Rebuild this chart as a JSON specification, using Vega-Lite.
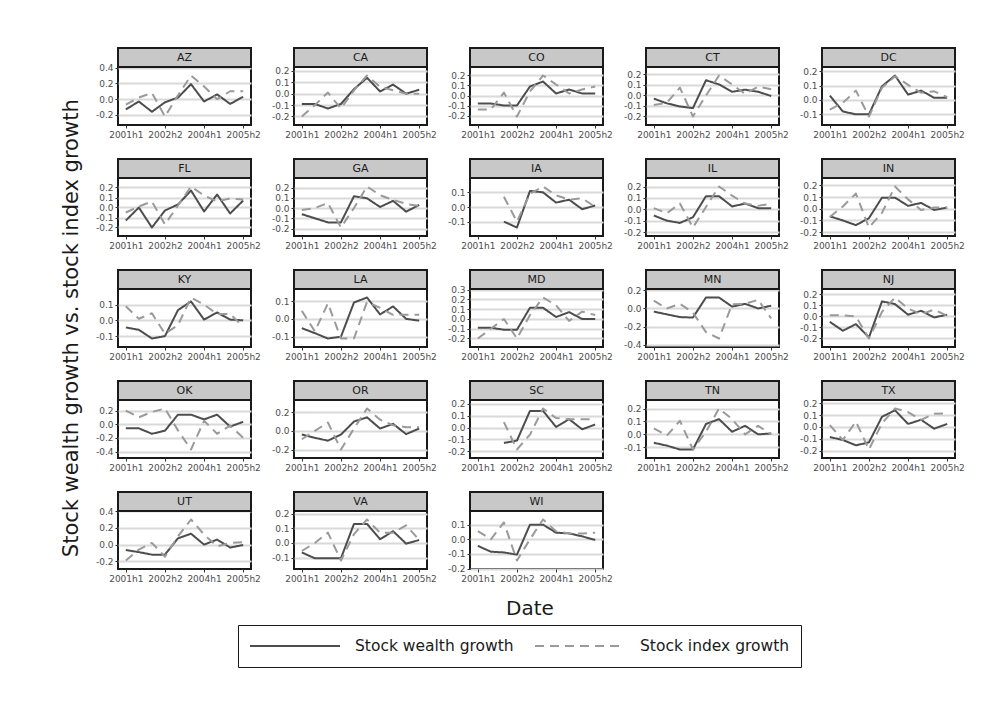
{
"$schema": "https://vega.github.io/schema/vega-lite/v6.json",
"background": "white",
"padding": {"left": 61, "top": 45, "right": 10, "bottom": 10},
"title": {"text": "Stock wealth growth vs. stock index growth", "orient": "left", "anchor": "middle", "frame": "bounds", "dx": 28, "fontSize": 21, "fontWeight": "normal", "font": "DejaVu Sans", "color": "#1a1a1a", "offset": 12},
"data": {"values": [
{"s":"AZ","t":"2001h1","k":"w","v":-0.13},{"s":"AZ","t":"2001h2","k":"w","v":-0.03},{"s":"AZ","t":"2002h1","k":"w","v":-0.16},{"s":"AZ","t":"2002h2","k":"w","v":-0.04},{"s":"AZ","t":"2003h1","k":"w","v":0.02},{"s":"AZ","t":"2003h2","k":"w","v":0.19},{"s":"AZ","t":"2004h1","k":"w","v":-0.03},{"s":"AZ","t":"2004h2","k":"w","v":0.06},{"s":"AZ","t":"2005h1","k":"w","v":-0.06},{"s":"AZ","t":"2005h2","k":"w","v":0.03},
{"s":"AZ","t":"2001h1","k":"i","v":-0.07},{"s":"AZ","t":"2001h2","k":"i","v":0.02},{"s":"AZ","t":"2002h1","k":"i","v":0.08},{"s":"AZ","t":"2002h2","k":"i","v":-0.22},{"s":"AZ","t":"2003h1","k":"i","v":0.05},{"s":"AZ","t":"2003h2","k":"i","v":0.30},{"s":"AZ","t":"2004h1","k":"i","v":0.16},{"s":"AZ","t":"2004h2","k":"i","v":0.00},{"s":"AZ","t":"2005h1","k":"i","v":0.10},{"s":"AZ","t":"2005h2","k":"i","v":0.10},
{"s":"CA","t":"2001h1","k":"w","v":-0.09},{"s":"CA","t":"2001h2","k":"w","v":-0.09},{"s":"CA","t":"2002h1","k":"w","v":-0.13},{"s":"CA","t":"2002h2","k":"w","v":-0.09},{"s":"CA","t":"2003h1","k":"w","v":0.04},{"s":"CA","t":"2003h2","k":"w","v":0.14},{"s":"CA","t":"2004h1","k":"w","v":0.02},{"s":"CA","t":"2004h2","k":"w","v":0.08},{"s":"CA","t":"2005h1","k":"w","v":0.00},{"s":"CA","t":"2005h2","k":"w","v":0.035},
{"s":"CA","t":"2001h1","k":"i","v":-0.20},{"s":"CA","t":"2001h2","k":"i","v":-0.10},{"s":"CA","t":"2002h1","k":"i","v":0.01},{"s":"CA","t":"2002h2","k":"i","v":-0.13},{"s":"CA","t":"2003h1","k":"i","v":0.03},{"s":"CA","t":"2003h2","k":"i","v":0.16},{"s":"CA","t":"2004h1","k":"i","v":0.06},{"s":"CA","t":"2004h2","k":"i","v":0.03},{"s":"CA","t":"2005h1","k":"i","v":0.00},{"s":"CA","t":"2005h2","k":"i","v":0.00},
{"s":"CO","t":"2001h1","k":"w","v":-0.08},{"s":"CO","t":"2001h2","k":"w","v":-0.08},{"s":"CO","t":"2002h1","k":"w","v":-0.10},{"s":"CO","t":"2002h2","k":"w","v":-0.10},{"s":"CO","t":"2003h1","k":"w","v":0.09},{"s":"CO","t":"2003h2","k":"w","v":0.14},{"s":"CO","t":"2004h1","k":"w","v":0.02},{"s":"CO","t":"2004h2","k":"w","v":0.06},{"s":"CO","t":"2005h1","k":"w","v":0.02},{"s":"CO","t":"2005h2","k":"w","v":0.02},
{"s":"CO","t":"2001h1","k":"i","v":-0.14},{"s":"CO","t":"2001h2","k":"i","v":-0.14},{"s":"CO","t":"2002h1","k":"i","v":0.03},{"s":"CO","t":"2002h2","k":"i","v":-0.21},{"s":"CO","t":"2003h1","k":"i","v":0.04},{"s":"CO","t":"2003h2","k":"i","v":0.20},{"s":"CO","t":"2004h1","k":"i","v":0.11},{"s":"CO","t":"2004h2","k":"i","v":0.02},{"s":"CO","t":"2005h1","k":"i","v":0.06},{"s":"CO","t":"2005h2","k":"i","v":0.09},
{"s":"CT","t":"2001h1","k":"w","v":-0.03},{"s":"CT","t":"2001h2","k":"w","v":-0.075},{"s":"CT","t":"2002h1","k":"w","v":-0.105},{"s":"CT","t":"2002h2","k":"w","v":-0.12},{"s":"CT","t":"2003h1","k":"w","v":0.145},{"s":"CT","t":"2003h2","k":"w","v":0.105},{"s":"CT","t":"2004h1","k":"w","v":0.035},{"s":"CT","t":"2004h2","k":"w","v":0.055},{"s":"CT","t":"2005h1","k":"w","v":0.035},{"s":"CT","t":"2005h2","k":"w","v":-0.005},
{"s":"CT","t":"2001h1","k":"i","v":-0.09},{"s":"CT","t":"2001h2","k":"i","v":-0.07},{"s":"CT","t":"2002h1","k":"i","v":0.075},{"s":"CT","t":"2002h2","k":"i","v":-0.20},{"s":"CT","t":"2003h1","k":"i","v":0.00},{"s":"CT","t":"2003h2","k":"i","v":0.19},{"s":"CT","t":"2004h1","k":"i","v":0.105},{"s":"CT","t":"2004h2","k":"i","v":0.015},{"s":"CT","t":"2005h1","k":"i","v":0.085},{"s":"CT","t":"2005h2","k":"i","v":0.06},
{"s":"DC","t":"2001h1","k":"w","v":0.03},{"s":"DC","t":"2001h2","k":"w","v":-0.08},{"s":"DC","t":"2002h1","k":"w","v":-0.10},{"s":"DC","t":"2002h2","k":"w","v":-0.10},{"s":"DC","t":"2003h1","k":"w","v":0.095},{"s":"DC","t":"2003h2","k":"w","v":0.17},{"s":"DC","t":"2004h1","k":"w","v":0.037},{"s":"DC","t":"2004h2","k":"w","v":0.065},{"s":"DC","t":"2005h1","k":"w","v":0.015},{"s":"DC","t":"2005h2","k":"w","v":0.015},
{"s":"DC","t":"2001h1","k":"i","v":-0.067},{"s":"DC","t":"2001h2","k":"i","v":-0.02},{"s":"DC","t":"2002h1","k":"i","v":0.065},{"s":"DC","t":"2002h2","k":"i","v":-0.115},{"s":"DC","t":"2003h1","k":"i","v":0.085},{"s":"DC","t":"2003h2","k":"i","v":0.165},{"s":"DC","t":"2004h1","k":"i","v":0.105},{"s":"DC","t":"2004h2","k":"i","v":0.05},{"s":"DC","t":"2005h1","k":"i","v":0.06},{"s":"DC","t":"2005h2","k":"i","v":0.02},
{"s":"FL","t":"2001h1","k":"w","v":-0.13},{"s":"FL","t":"2001h2","k":"w","v":0.00},{"s":"FL","t":"2002h1","k":"w","v":-0.20},{"s":"FL","t":"2002h2","k":"w","v":-0.03},{"s":"FL","t":"2003h1","k":"w","v":0.03},{"s":"FL","t":"2003h2","k":"w","v":0.17},{"s":"FL","t":"2004h1","k":"w","v":-0.04},{"s":"FL","t":"2004h2","k":"w","v":0.13},{"s":"FL","t":"2005h1","k":"w","v":-0.06},{"s":"FL","t":"2005h2","k":"w","v":0.07},
{"s":"FL","t":"2001h1","k":"i","v":-0.05},{"s":"FL","t":"2001h2","k":"i","v":0.01},{"s":"FL","t":"2002h1","k":"i","v":0.06},{"s":"FL","t":"2002h2","k":"i","v":-0.17},{"s":"FL","t":"2003h1","k":"i","v":0.02},{"s":"FL","t":"2003h2","k":"i","v":0.21},{"s":"FL","t":"2004h1","k":"i","v":0.12},{"s":"FL","t":"2004h2","k":"i","v":0.06},{"s":"FL","t":"2005h1","k":"i","v":0.09},{"s":"FL","t":"2005h2","k":"i","v":0.08},
{"s":"GA","t":"2001h1","k":"w","v":-0.06},{"s":"GA","t":"2001h2","k":"w","v":-0.10},{"s":"GA","t":"2002h1","k":"w","v":-0.14},{"s":"GA","t":"2002h2","k":"w","v":-0.14},{"s":"GA","t":"2003h1","k":"w","v":0.115},{"s":"GA","t":"2003h2","k":"w","v":0.095},{"s":"GA","t":"2004h1","k":"w","v":0.01},{"s":"GA","t":"2004h2","k":"w","v":0.07},{"s":"GA","t":"2005h1","k":"w","v":-0.035},{"s":"GA","t":"2005h2","k":"w","v":0.03},
{"s":"GA","t":"2001h1","k":"i","v":-0.02},{"s":"GA","t":"2001h2","k":"i","v":0.00},{"s":"GA","t":"2002h1","k":"i","v":0.05},{"s":"GA","t":"2002h2","k":"i","v":-0.19},{"s":"GA","t":"2003h1","k":"i","v":0.00},{"s":"GA","t":"2003h2","k":"i","v":0.21},{"s":"GA","t":"2004h1","k":"i","v":0.125},{"s":"GA","t":"2004h2","k":"i","v":0.08},{"s":"GA","t":"2005h1","k":"i","v":0.04},{"s":"GA","t":"2005h2","k":"i","v":0.02},
{"s":"IA","t":"2002h1","k":"w","v":-0.10},{"s":"IA","t":"2002h2","k":"w","v":-0.14},{"s":"IA","t":"2003h1","k":"w","v":0.11},{"s":"IA","t":"2003h2","k":"w","v":0.10},{"s":"IA","t":"2004h1","k":"w","v":0.03},{"s":"IA","t":"2004h2","k":"w","v":0.05},{"s":"IA","t":"2005h1","k":"w","v":-0.015},{"s":"IA","t":"2005h2","k":"w","v":0.01},
{"s":"IA","t":"2002h1","k":"i","v":0.07},{"s":"IA","t":"2002h2","k":"i","v":-0.10},{"s":"IA","t":"2003h1","k":"i","v":0.09},{"s":"IA","t":"2003h2","k":"i","v":0.14},{"s":"IA","t":"2004h1","k":"i","v":0.08},{"s":"IA","t":"2004h2","k":"i","v":0.05},{"s":"IA","t":"2005h1","k":"i","v":0.06},{"s":"IA","t":"2005h2","k":"i","v":0.00},
{"s":"IL","t":"2001h1","k":"w","v":-0.055},{"s":"IL","t":"2001h2","k":"w","v":-0.10},{"s":"IL","t":"2002h1","k":"w","v":-0.12},{"s":"IL","t":"2002h2","k":"w","v":-0.07},{"s":"IL","t":"2003h1","k":"w","v":0.115},{"s":"IL","t":"2003h2","k":"w","v":0.115},{"s":"IL","t":"2004h1","k":"w","v":0.025},{"s":"IL","t":"2004h2","k":"w","v":0.05},{"s":"IL","t":"2005h1","k":"w","v":0.01},{"s":"IL","t":"2005h2","k":"w","v":0.01},
{"s":"IL","t":"2001h1","k":"i","v":0.01},{"s":"IL","t":"2001h2","k":"i","v":-0.035},{"s":"IL","t":"2002h1","k":"i","v":0.05},{"s":"IL","t":"2002h2","k":"i","v":-0.16},{"s":"IL","t":"2003h1","k":"i","v":0.02},{"s":"IL","t":"2003h2","k":"i","v":0.20},{"s":"IL","t":"2004h1","k":"i","v":0.12},{"s":"IL","t":"2004h2","k":"i","v":0.05},{"s":"IL","t":"2005h1","k":"i","v":0.03},{"s":"IL","t":"2005h2","k":"i","v":0.05},
{"s":"IN","t":"2001h1","k":"w","v":-0.065},{"s":"IN","t":"2001h2","k":"w","v":-0.10},{"s":"IN","t":"2002h1","k":"w","v":-0.14},{"s":"IN","t":"2002h2","k":"w","v":-0.08},{"s":"IN","t":"2003h1","k":"w","v":0.095},{"s":"IN","t":"2003h2","k":"w","v":0.095},{"s":"IN","t":"2004h1","k":"w","v":0.025},{"s":"IN","t":"2004h2","k":"w","v":0.05},{"s":"IN","t":"2005h1","k":"w","v":-0.01},{"s":"IN","t":"2005h2","k":"w","v":0.01},
{"s":"IN","t":"2001h1","k":"i","v":-0.07},{"s":"IN","t":"2001h2","k":"i","v":0.02},{"s":"IN","t":"2002h1","k":"i","v":0.13},{"s":"IN","t":"2002h2","k":"i","v":-0.16},{"s":"IN","t":"2003h1","k":"i","v":-0.035},{"s":"IN","t":"2003h2","k":"i","v":0.19},{"s":"IN","t":"2004h1","k":"i","v":0.08},{"s":"IN","t":"2004h2","k":"i","v":-0.01},{"s":"IN","t":"2005h1","k":"i","v":0.01},{"s":"IN","t":"2005h2","k":"i","v":0.01},
{"s":"KY","t":"2001h1","k":"w","v":-0.045},{"s":"KY","t":"2001h2","k":"w","v":-0.06},{"s":"KY","t":"2002h1","k":"w","v":-0.115},{"s":"KY","t":"2002h2","k":"w","v":-0.10},{"s":"KY","t":"2003h1","k":"w","v":0.065},{"s":"KY","t":"2003h2","k":"w","v":0.12},{"s":"KY","t":"2004h1","k":"w","v":0.005},{"s":"KY","t":"2004h2","k":"w","v":0.05},{"s":"KY","t":"2005h1","k":"w","v":0.005},{"s":"KY","t":"2005h2","k":"w","v":0.00},
{"s":"KY","t":"2001h1","k":"i","v":0.09},{"s":"KY","t":"2001h2","k":"i","v":0.01},{"s":"KY","t":"2002h1","k":"i","v":0.045},{"s":"KY","t":"2002h2","k":"i","v":-0.085},{"s":"KY","t":"2003h1","k":"i","v":-0.03},{"s":"KY","t":"2003h2","k":"i","v":0.145},{"s":"KY","t":"2004h1","k":"i","v":0.10},{"s":"KY","t":"2004h2","k":"i","v":0.04},{"s":"KY","t":"2005h1","k":"i","v":0.04},{"s":"KY","t":"2005h2","k":"i","v":-0.04},
{"s":"LA","t":"2001h1","k":"w","v":-0.052},{"s":"LA","t":"2001h2","k":"w","v":-0.08},{"s":"LA","t":"2002h1","k":"w","v":-0.11},{"s":"LA","t":"2002h2","k":"w","v":-0.10},{"s":"LA","t":"2003h1","k":"w","v":0.092},{"s":"LA","t":"2003h2","k":"w","v":0.12},{"s":"LA","t":"2004h1","k":"w","v":0.025},{"s":"LA","t":"2004h2","k":"w","v":0.07},{"s":"LA","t":"2005h1","k":"w","v":0.00},{"s":"LA","t":"2005h2","k":"w","v":-0.01},
{"s":"LA","t":"2001h1","k":"i","v":0.045},{"s":"LA","t":"2001h2","k":"i","v":-0.07},{"s":"LA","t":"2002h1","k":"i","v":0.087},{"s":"LA","t":"2002h2","k":"i","v":-0.11},{"s":"LA","t":"2003h1","k":"i","v":-0.11},{"s":"LA","t":"2003h2","k":"i","v":0.095},{"s":"LA","t":"2004h1","k":"i","v":0.062},{"s":"LA","t":"2004h2","k":"i","v":0.023},{"s":"LA","t":"2005h1","k":"i","v":0.023},{"s":"LA","t":"2005h2","k":"i","v":0.023},
{"s":"MD","t":"2001h1","k":"w","v":-0.09},{"s":"MD","t":"2001h2","k":"w","v":-0.09},{"s":"MD","t":"2002h1","k":"w","v":-0.11},{"s":"MD","t":"2002h2","k":"w","v":-0.11},{"s":"MD","t":"2003h1","k":"w","v":0.115},{"s":"MD","t":"2003h2","k":"w","v":0.115},{"s":"MD","t":"2004h1","k":"w","v":0.02},{"s":"MD","t":"2004h2","k":"w","v":0.07},{"s":"MD","t":"2005h1","k":"w","v":0.00},{"s":"MD","t":"2005h2","k":"w","v":0.00},
{"s":"MD","t":"2001h1","k":"i","v":-0.20},{"s":"MD","t":"2001h2","k":"i","v":-0.10},{"s":"MD","t":"2002h1","k":"i","v":0.00},{"s":"MD","t":"2002h2","k":"i","v":-0.20},{"s":"MD","t":"2003h1","k":"i","v":0.04},{"s":"MD","t":"2003h2","k":"i","v":0.22},{"s":"MD","t":"2004h1","k":"i","v":0.14},{"s":"MD","t":"2004h2","k":"i","v":-0.02},{"s":"MD","t":"2005h1","k":"i","v":0.075},{"s":"MD","t":"2005h2","k":"i","v":0.04},
{"s":"MN","t":"2001h1","k":"w","v":-0.035},{"s":"MN","t":"2001h2","k":"w","v":-0.065},{"s":"MN","t":"2002h1","k":"w","v":-0.095},{"s":"MN","t":"2002h2","k":"w","v":-0.10},{"s":"MN","t":"2003h1","k":"w","v":0.12},{"s":"MN","t":"2003h2","k":"w","v":0.12},{"s":"MN","t":"2004h1","k":"w","v":0.02},{"s":"MN","t":"2004h2","k":"w","v":0.05},{"s":"MN","t":"2005h1","k":"w","v":0.00},{"s":"MN","t":"2005h2","k":"w","v":0.03},
{"s":"MN","t":"2001h1","k":"i","v":0.085},{"s":"MN","t":"2001h2","k":"i","v":0.00},{"s":"MN","t":"2002h1","k":"i","v":0.05},{"s":"MN","t":"2002h2","k":"i","v":-0.045},{"s":"MN","t":"2003h1","k":"i","v":-0.26},{"s":"MN","t":"2003h2","k":"i","v":-0.33},{"s":"MN","t":"2004h1","k":"i","v":0.045},{"s":"MN","t":"2004h2","k":"i","v":0.05},{"s":"MN","t":"2005h1","k":"i","v":0.095},{"s":"MN","t":"2005h2","k":"i","v":-0.11},
{"s":"NJ","t":"2001h1","k":"w","v":-0.05},{"s":"NJ","t":"2001h2","k":"w","v":-0.13},{"s":"NJ","t":"2002h1","k":"w","v":-0.07},{"s":"NJ","t":"2002h2","k":"w","v":-0.19},{"s":"NJ","t":"2003h1","k":"w","v":0.135},{"s":"NJ","t":"2003h2","k":"w","v":0.11},{"s":"NJ","t":"2004h1","k":"w","v":0.015},{"s":"NJ","t":"2004h2","k":"w","v":0.05},{"s":"NJ","t":"2005h1","k":"w","v":-0.01},{"s":"NJ","t":"2005h2","k":"w","v":0.015},
{"s":"NJ","t":"2001h1","k":"i","v":0.01},{"s":"NJ","t":"2001h2","k":"i","v":0.01},{"s":"NJ","t":"2002h1","k":"i","v":0.00},{"s":"NJ","t":"2002h2","k":"i","v":-0.20},{"s":"NJ","t":"2003h1","k":"i","v":0.04},{"s":"NJ","t":"2003h2","k":"i","v":0.17},{"s":"NJ","t":"2004h1","k":"i","v":0.07},{"s":"NJ","t":"2004h2","k":"i","v":0.02},{"s":"NJ","t":"2005h1","k":"i","v":0.06},{"s":"NJ","t":"2005h2","k":"i","v":0.005},
{"s":"OK","t":"2001h1","k":"w","v":-0.06},{"s":"OK","t":"2001h2","k":"w","v":-0.06},{"s":"OK","t":"2002h1","k":"w","v":-0.14},{"s":"OK","t":"2002h2","k":"w","v":-0.095},{"s":"OK","t":"2003h1","k":"w","v":0.14},{"s":"OK","t":"2003h2","k":"w","v":0.14},{"s":"OK","t":"2004h1","k":"w","v":0.07},{"s":"OK","t":"2004h2","k":"w","v":0.14},{"s":"OK","t":"2005h1","k":"w","v":-0.035},{"s":"OK","t":"2005h2","k":"w","v":0.035},
{"s":"OK","t":"2001h1","k":"i","v":0.20},{"s":"OK","t":"2001h2","k":"i","v":0.10},{"s":"OK","t":"2002h1","k":"i","v":0.18},{"s":"OK","t":"2002h2","k":"i","v":0.23},{"s":"OK","t":"2003h1","k":"i","v":-0.09},{"s":"OK","t":"2003h2","k":"i","v":-0.37},{"s":"OK","t":"2004h1","k":"i","v":0.05},{"s":"OK","t":"2004h2","k":"i","v":-0.14},{"s":"OK","t":"2005h1","k":"i","v":-0.02},{"s":"OK","t":"2005h2","k":"i","v":-0.20},
{"s":"OR","t":"2001h1","k":"w","v":-0.04},{"s":"OR","t":"2001h2","k":"w","v":-0.075},{"s":"OR","t":"2002h1","k":"w","v":-0.105},{"s":"OR","t":"2002h2","k":"w","v":-0.04},{"s":"OR","t":"2003h1","k":"w","v":0.10},{"s":"OR","t":"2003h2","k":"w","v":0.145},{"s":"OR","t":"2004h1","k":"w","v":0.025},{"s":"OR","t":"2004h2","k":"w","v":0.075},{"s":"OR","t":"2005h1","k":"w","v":-0.035},{"s":"OR","t":"2005h2","k":"w","v":0.025},
{"s":"OR","t":"2001h1","k":"i","v":-0.09},{"s":"OR","t":"2001h2","k":"i","v":0.00},{"s":"OR","t":"2002h1","k":"i","v":0.09},{"s":"OR","t":"2002h2","k":"i","v":-0.20},{"s":"OR","t":"2003h1","k":"i","v":0.025},{"s":"OR","t":"2003h2","k":"i","v":0.24},{"s":"OR","t":"2004h1","k":"i","v":0.12},{"s":"OR","t":"2004h2","k":"i","v":0.06},{"s":"OR","t":"2005h1","k":"i","v":0.04},{"s":"OR","t":"2005h2","k":"i","v":0.04},
{"s":"SC","t":"2002h1","k":"w","v":-0.13},{"s":"SC","t":"2002h2","k":"w","v":-0.11},{"s":"SC","t":"2003h1","k":"w","v":0.14},{"s":"SC","t":"2003h2","k":"w","v":0.14},{"s":"SC","t":"2004h1","k":"w","v":0.005},{"s":"SC","t":"2004h2","k":"w","v":0.07},{"s":"SC","t":"2005h1","k":"w","v":-0.015},{"s":"SC","t":"2005h2","k":"w","v":0.025},
{"s":"SC","t":"2002h1","k":"i","v":0.045},{"s":"SC","t":"2002h2","k":"i","v":-0.185},{"s":"SC","t":"2003h1","k":"i","v":-0.06},{"s":"SC","t":"2003h2","k":"i","v":0.16},{"s":"SC","t":"2004h1","k":"i","v":0.08},{"s":"SC","t":"2004h2","k":"i","v":0.07},{"s":"SC","t":"2005h1","k":"i","v":0.07},{"s":"SC","t":"2005h2","k":"i","v":0.07},
{"s":"TN","t":"2001h1","k":"w","v":-0.065},{"s":"TN","t":"2001h2","k":"w","v":-0.087},{"s":"TN","t":"2002h1","k":"w","v":-0.117},{"s":"TN","t":"2002h2","k":"w","v":-0.117},{"s":"TN","t":"2003h1","k":"w","v":0.08},{"s":"TN","t":"2003h2","k":"w","v":0.118},{"s":"TN","t":"2004h1","k":"w","v":0.02},{"s":"TN","t":"2004h2","k":"w","v":0.066},{"s":"TN","t":"2005h1","k":"w","v":0.00},{"s":"TN","t":"2005h2","k":"w","v":0.007},
{"s":"TN","t":"2001h1","k":"i","v":0.047},{"s":"TN","t":"2001h2","k":"i","v":-0.01},{"s":"TN","t":"2002h1","k":"i","v":0.105},{"s":"TN","t":"2002h2","k":"i","v":-0.117},{"s":"TN","t":"2003h1","k":"i","v":0.02},{"s":"TN","t":"2003h2","k":"i","v":0.20},{"s":"TN","t":"2004h1","k":"i","v":0.118},{"s":"TN","t":"2004h2","k":"i","v":0.00},{"s":"TN","t":"2005h1","k":"i","v":0.066},{"s":"TN","t":"2005h2","k":"i","v":0.00},
{"s":"TX","t":"2001h1","k":"w","v":-0.085},{"s":"TX","t":"2001h2","k":"w","v":-0.11},{"s":"TX","t":"2002h1","k":"w","v":-0.155},{"s":"TX","t":"2002h2","k":"w","v":-0.13},{"s":"TX","t":"2003h1","k":"w","v":0.085},{"s":"TX","t":"2003h2","k":"w","v":0.14},{"s":"TX","t":"2004h1","k":"w","v":0.025},{"s":"TX","t":"2004h2","k":"w","v":0.06},{"s":"TX","t":"2005h1","k":"w","v":-0.015},{"s":"TX","t":"2005h2","k":"w","v":0.025},
{"s":"TX","t":"2001h1","k":"i","v":0.015},{"s":"TX","t":"2001h2","k":"i","v":-0.11},{"s":"TX","t":"2002h1","k":"i","v":0.045},{"s":"TX","t":"2002h2","k":"i","v":-0.19},{"s":"TX","t":"2003h1","k":"i","v":0.03},{"s":"TX","t":"2003h2","k":"i","v":0.155},{"s":"TX","t":"2004h1","k":"i","v":0.125},{"s":"TX","t":"2004h2","k":"i","v":0.06},{"s":"TX","t":"2005h1","k":"i","v":0.11},{"s":"TX","t":"2005h2","k":"i","v":0.115},
{"s":"UT","t":"2001h1","k":"w","v":-0.065},{"s":"UT","t":"2001h2","k":"w","v":-0.09},{"s":"UT","t":"2002h1","k":"w","v":-0.12},{"s":"UT","t":"2002h2","k":"w","v":-0.12},{"s":"UT","t":"2003h1","k":"w","v":0.075},{"s":"UT","t":"2003h2","k":"w","v":0.13},{"s":"UT","t":"2004h1","k":"w","v":0.00},{"s":"UT","t":"2004h2","k":"w","v":0.06},{"s":"UT","t":"2005h1","k":"w","v":-0.035},{"s":"UT","t":"2005h2","k":"w","v":-0.005},
{"s":"UT","t":"2001h1","k":"i","v":-0.19},{"s":"UT","t":"2001h2","k":"i","v":-0.06},{"s":"UT","t":"2002h1","k":"i","v":0.02},{"s":"UT","t":"2002h2","k":"i","v":-0.145},{"s":"UT","t":"2003h1","k":"i","v":0.10},{"s":"UT","t":"2003h2","k":"i","v":0.30},{"s":"UT","t":"2004h1","k":"i","v":0.12},{"s":"UT","t":"2004h2","k":"i","v":-0.02},{"s":"UT","t":"2005h1","k":"i","v":0.02},{"s":"UT","t":"2005h2","k":"i","v":0.03},
{"s":"VA","t":"2001h1","k":"w","v":-0.065},{"s":"VA","t":"2001h2","k":"w","v":-0.105},{"s":"VA","t":"2002h1","k":"w","v":-0.105},{"s":"VA","t":"2002h2","k":"w","v":-0.105},{"s":"VA","t":"2003h1","k":"w","v":0.13},{"s":"VA","t":"2003h2","k":"w","v":0.13},{"s":"VA","t":"2004h1","k":"w","v":0.025},{"s":"VA","t":"2004h2","k":"w","v":0.08},{"s":"VA","t":"2005h1","k":"w","v":-0.005},{"s":"VA","t":"2005h2","k":"w","v":0.02},
{"s":"VA","t":"2001h1","k":"i","v":-0.055},{"s":"VA","t":"2001h2","k":"i","v":0.00},{"s":"VA","t":"2002h1","k":"i","v":0.07},{"s":"VA","t":"2002h2","k":"i","v":-0.12},{"s":"VA","t":"2003h1","k":"i","v":0.06},{"s":"VA","t":"2003h2","k":"i","v":0.16},{"s":"VA","t":"2004h1","k":"i","v":0.07},{"s":"VA","t":"2004h2","k":"i","v":0.07},{"s":"VA","t":"2005h1","k":"i","v":0.12},{"s":"VA","t":"2005h2","k":"i","v":0.02},
{"s":"WI","t":"2001h1","k":"w","v":-0.045},{"s":"WI","t":"2001h2","k":"w","v":-0.085},{"s":"WI","t":"2002h1","k":"w","v":-0.09},{"s":"WI","t":"2002h2","k":"w","v":-0.105},{"s":"WI","t":"2003h1","k":"w","v":0.10},{"s":"WI","t":"2003h2","k":"w","v":0.10},{"s":"WI","t":"2004h1","k":"w","v":0.045},{"s":"WI","t":"2004h2","k":"w","v":0.04},{"s":"WI","t":"2005h1","k":"w","v":0.02},{"s":"WI","t":"2005h2","k":"w","v":-0.005},
{"s":"WI","t":"2001h1","k":"i","v":0.055},{"s":"WI","t":"2001h2","k":"i","v":0.00},{"s":"WI","t":"2002h1","k":"i","v":0.115},{"s":"WI","t":"2002h2","k":"i","v":-0.145},{"s":"WI","t":"2003h1","k":"i","v":0.00},{"s":"WI","t":"2003h2","k":"i","v":0.135},{"s":"WI","t":"2004h1","k":"i","v":0.055},{"s":"WI","t":"2004h2","k":"i","v":0.04},{"s":"WI","t":"2005h1","k":"i","v":0.04},{"s":"WI","t":"2005h2","k":"i","v":0.045}
]},
"columns": 5,
"spacing": {"row": 34, "column": 43},
"bounds": "flush",
"facet": {"field": "s", "type": "nominal", "header": {"labels": false, "labelExpr": "''", "labelFontSize": 1, "labelPadding": 0, "title": "Date", "titleOrient": "bottom", "titleFontSize": 20, "titleFont": "DejaVu Sans", "titleFontWeight": "normal", "titleColor": "#1a1a1a", "titlePadding": 30}},
"spec": {
  "width": 133,
  "height": 77,
  "layer": [
    {
      "mark": {"type": "line", "strokeWidth": 2, "strokeJoin": "round"},
      "encoding": {
        "x": {"field": "t", "type": "ordinal", "title": null,
              "scale": {"type": "point", "padding": 0.6, "domain": ["2001h1","2001h2","2002h1","2002h2","2003h1","2003h2","2004h1","2004h2","2005h1","2005h2"]},
              "axis": {"values": ["2001h1","2002h2","2004h1","2005h2"], "labelAngle": 0, "grid": false, "labelOverlap": false}},
        "y": {"field": "v", "type": "quantitative", "title": null,
              "scale": {"zero": false, "nice": false, "padding": 8.5, "range": [77, 19]},
              "axis": {"orient": "left", "tickCount": 4.4, "grid": true, "labelOverlap": false, "labelExpr": "(datum.value < 0 ? '-' : '') + format(abs(datum.value), '.1f')"}},
        "color": {"field": "k", "type": "nominal", "scale": {"domain": ["w","i"], "range": ["#4d4d4d","#9a9a9a"]},
                  "legend": {"title": null, "orient": "none", "legendX": 120, "legendY": 577, "labelExpr": "datum.label == 'w' ? 'Stock wealth growth' : 'Stock index growth'"}},
        "strokeDash": {"field": "k", "type": "nominal", "scale": {"domain": ["w","i"], "range": [[1,0],[9,6]]},
                  "legend": {"title": null, "orient": "none", "legendX": 120, "legendY": 577, "labelExpr": "datum.label == 'w' ? 'Stock wealth growth' : 'Stock index growth'"}}
      }
    },
    {
      "transform": [{"aggregate": [{"op": "count", "as": "n"}], "groupby": ["s"]}],
      "mark": {"type": "rect", "fill": "#c8c8c8", "stroke": "#1a1a1a", "strokeWidth": 2},
      "encoding": {
        "y": {"datum": 0, "type": "quantitative", "scale": {"domain": [0, 1], "range": [0, 19]}, "axis": null},
        "y2": {"datum": 1}
      }
    },
    {
      "transform": [{"aggregate": [{"op": "count", "as": "n"}], "groupby": ["s"]}],
      "mark": {"type": "text", "fontSize": 11, "font": "DejaVu Sans", "color": "#1a1a1a", "baseline": "middle"},
      "encoding": {
        "y": {"datum": 0.5, "type": "quantitative", "scale": {"domain": [0, 1], "range": [0, 19]}, "axis": null},
        "text": {"field": "s", "type": "nominal"}
      }
    }
  ],
  "resolve": {"scale": {"y": "independent"}}
},
"resolve": {"scale": {"y": "independent"}, "axis": {"x": "independent", "y": "independent"}},
"config": {
  "font": "DejaVu Sans",
  "view": {"stroke": "#1a1a1a", "strokeWidth": 2, "fill": "white"},
  "axis": {"domain": false, "tickColor": "#333333", "tickSize": 3, "tickWidth": 1, "labelColor": "#4d4d4d", "labelFontSize": 9, "labelPadding": 2, "labelFont": "DejaVu Sans"},
  "axisY": {"gridColor": "#d9d9d9", "gridWidth": 2, "labelFontSize": 9},
  "legend": {"direction": "horizontal", "symbolType": "stroke", "symbolSize": 8100, "symbolStrokeWidth": 2, "clipHeight": 20, "labelFontSize": 15.5, "labelFont": "DejaVu Sans", "labelColor": "#1a1a1a", "labelOffset": 14, "columnPadding": 20, "padding": 11, "strokeColor": "#1a1a1a", "labelLimit": 400}
}
}
